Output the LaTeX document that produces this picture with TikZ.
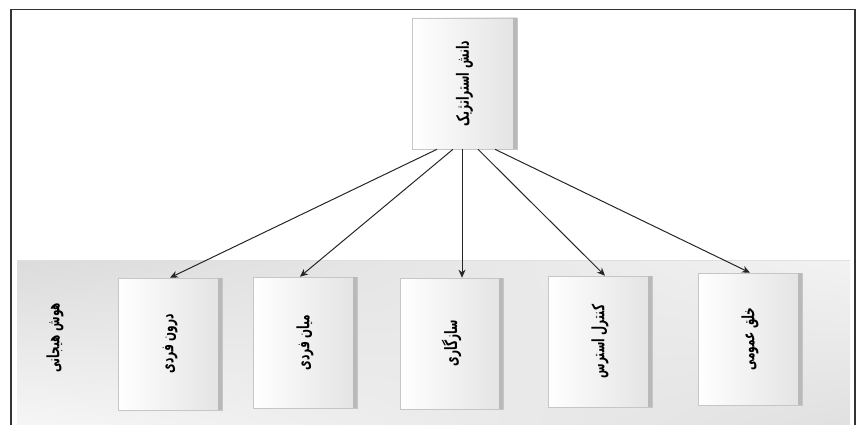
\documentclass[tikz,border=0pt]{standalone}
\usepackage{fontspec}
\usetikzlibrary{arrows.meta,shadings}
\newfontfamily\arabicfont[Script=Arabic]{DejaVu Sans}
\TeXXeTstate=1
\tikzset{
  box/.style={rectangle, draw=gray!45, line width=0.6pt, left color=white, right color=gray!22,
    inner sep=0pt},
  lbl/.style={rotate=90, xscale=0.62, font=\arabicfont\bfseries\fontsize{17}{19}\selectfont, text=black},
  conn/.style={draw=black!85, line width=1pt, -{Stealth[length=8pt,width=7pt]}},
  frame/.style={draw=black!80, line width=1.4pt},
}
\newcommand{\strip}[1]{\fill[gray!55] ([xshift=-4pt]#1.north east) rectangle (#1.south east);}
\begin{document}
\begin{tikzpicture}[x=1pt,y=-1pt]
\useasboundingbox (0,0) rectangle (860,425);
% frame
\draw[frame] (11,425) -- (11,9.5) -- (855,9.5) -- (855,425);
% band
\shade[upper left=gray!28, upper right=gray!10, lower left=gray!7, lower right=gray!24]
  (17,260) rectangle (850,425);
\draw[gray!25, line width=0.6pt] (17,260) -- (850,260);
% top node
\node[box, minimum width=105pt, minimum height=131pt] (top) at (464.5,83.5) {};
\strip{top}
\node[lbl] at (top.center) {\beginR دانش استراتژیک\endR};
% label
\node[lbl] (eq) at (55,338) {\beginR هوش هیجانی\endR};
% bottom boxes
\node[box, minimum width=104pt, minimum height=132pt] (b1) at (170,344) {};
\node[box, minimum width=104pt, minimum height=131pt] (b2) at (305,342.5) {};
\node[box, minimum width=103pt, minimum height=131pt] (b3) at (451.5,343.5) {};
\node[box, minimum width=104pt, minimum height=131pt] (b4) at (600,341.5) {};
\node[box, minimum width=104pt, minimum height=132pt] (b5) at (750,339) {};
\strip{b1}\strip{b2}\strip{b3}\strip{b4}\strip{b5}
\node[lbl] at (b1.center) {\beginR درون فردی\endR};
\node[lbl] at (b2.center) {\beginR میان فردی\endR};
\node[lbl] at (b3.center) {\beginR سازگاری\endR};
\node[lbl] at (b4.center) {\beginR کنترل استرس\endR};
\node[lbl] at (b5.center) {\beginR خلق عمومی\endR};
% connectors
\draw[conn] ([xshift=-27.5pt]top.south) -- (b1.north);
\draw[conn] ([xshift=-11.5pt]top.south) -- ([xshift=-5pt]b2.north);
\draw[conn] ([xshift=-2.5pt]top.south) -- ([xshift=10.5pt]b3.north);
\draw[conn] ([xshift=13.5pt]top.south) -- ([xshift=5pt]b4.north);
\draw[conn] ([xshift=30.5pt]top.south) -- (b5.north);
\end{tikzpicture}
\end{document}
